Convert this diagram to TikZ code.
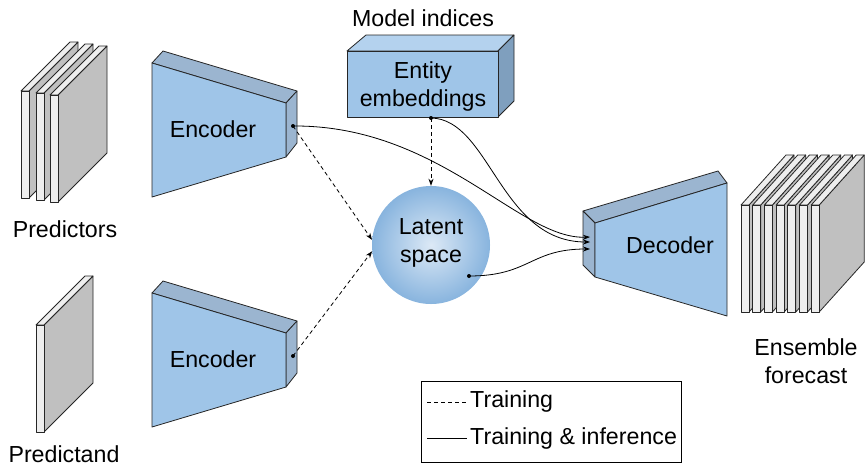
\documentclass[tikz,border=0pt]{standalone}
\usepackage{fontspec}
\setmainfont{Liberation Sans}
\usetikzlibrary{arrows.meta}

\definecolor{plfront}{HTML}{EEEEEE}
\definecolor{plside}{HTML}{C0C0C0}
\definecolor{netfront}{HTML}{9FC5E8}
\definecolor{netside}{HTML}{9BB5D0}
\definecolor{embtop}{HTML}{B4D2EE}
\definecolor{embside}{HTML}{7F9FBE}
\definecolor{latentin}{HTML}{DCE9F6}
\definecolor{latentout}{HTML}{88B4DE}

\tikzset{
  face/.style={draw=black!85, line width=0.8pt, line join=round},
  lbl/.style={font=\fontsize{23.2}{28}\selectfont, align=center, inner sep=0pt},
  flow/.style={-{Stealth[length=7pt,width=5pt]}, line width=0.8pt},
  train/.style={flow, dash pattern=on 4pt off 3pt},
}

\begin{document}
\begin{tikzpicture}[x=1pt,y=-1pt]
    \useasboundingbox (0,0) rectangle (866,466);

    % predictors and predictand
    \foreach \x/\y in {21/91, 36/93, 50/95, 36/325} {
        \draw[face, fill=plside] (\x+8,\y) -- (\x+57,\y-49) -- (\x+57,\y+58) -- (\x+8,\y+107) -- cycle;
        \draw[face, fill=plfront] (\x,\y) -- (\x+49,\y-49) -- (\x+57,\y-49) -- (\x+8,\y) -- cycle;
        \draw[face, fill=plfront] (\x,\y) rectangle (\x+8,\y+107);
    }
    \node[lbl] (pred) at (65,229) {Predictors};
    \node[lbl] (obs) at (64,454) {Predictand};

    % encoders
    \foreach \dy/\nm in {0/enca, 230/encb} {
        \draw[face, fill=netside] (152,63+\dy) -- (163,51+\dy) -- (297,91+\dy) -- (286,103+\dy) -- cycle;
        \draw[face, fill=netside] (286,103+\dy) -- (297,91+\dy) -- (297,143+\dy) -- (286,157+\dy) -- cycle;
        \draw[face, fill=netfront] (152,63+\dy) -- (286,103+\dy) -- (286,157+\dy) -- (152,197+\dy) -- cycle;
        \node[lbl] (\nm) at (213,129+\dy) {Encoder};
        \coordinate (\nm-out) at (293,126+\dy);
    }

    % entity embeddings
    \draw[face, fill=embtop] (347,51) -- (366,35) -- (514,35) -- (498,51) -- cycle;
    \draw[face, fill=embside] (498,51) -- (514,35) -- (514,101) -- (498,117) -- cycle;
    \draw[face, fill=netfront] (347,51) rectangle (498,117);
    \node[lbl] (emb) at (423,86) {Entity\\embeddings};
    \node[lbl] (idx) at (423,18) {Model indices};
    \coordinate (emb-out) at (431,118);

    % latent space
    \node[circle, minimum size=118pt, inner sep=0pt, shading=radial,
          inner color=latentin, outer color=latentout] (latent) at (431,245) {};
    \node[lbl] (latent-txt) at (431,243) {Latent\\space};
    \coordinate (latent-out) at (469,276);

    % decoder
    \draw[face, fill=netside] (583,211) -- (718,171) -- (727,183) -- (595,223) -- cycle;
    \draw[face, fill=netside] (583,211) -- (595,223) -- (595,277) -- (583,265) -- cycle;
    \draw[face, fill=netfront] (595,223) -- (727,183) -- (727,316) -- (595,277) -- cycle;
    \node[lbl] (dec) at (670,245) {Decoder};
    \coordinate (dec-in1) at (590,237);
    \coordinate (dec-in2) at (590,242);
    \coordinate (dec-in3) at (590,249);

    % ensemble forecast
    \foreach \i in {0,...,6} {
        \pgfmathsetmacro\x{741+11.7*\i}
        \draw[face, fill=plside] (\x+8,205) -- (\x+53,155) -- (\x+53,262) -- (\x+8,312) -- cycle;
        \draw[face, fill=plfront] (\x,205) -- (\x+45,155) -- (\x+53,155) -- (\x+8,205) -- cycle;
        \draw[face, fill=plfront] (\x,205) rectangle (\x+8,312);
    }
    \node[lbl] (ens) at (806,361) {Ensemble\\forecast};

    % connections
    \draw[train] (enca-out) -- (latent.175);
    \draw[train] (encb-out) -- (latent.186);
    \draw[train] (emb-out) -- (latent.north);
    \draw[flow] (enca-out) .. controls (440,125) and (520,240) .. (dec-in1);
    \draw[flow] (emb-out) .. controls (490,119) and (500,242) .. (dec-in2);
    \draw[flow] (latent-out) .. controls (530,276) and (530,249) .. (dec-in3);
    \foreach \p in {enca-out, encb-out, emb-out, latent-out}
        \fill (\p) circle (2pt);

    % legend
    \draw[line width=0.8pt] (421,381) rectangle (681,462);
    \node[lbl, anchor=west] (ltrain) at (470,401) {Training};
    \node[lbl, anchor=west] (lboth) at (470,438) {Training \& inference};
    \coordinate (ldash) at (427,402);
    \coordinate (lline) at (427,438);
    \draw[dash pattern=on 4pt off 3pt] (ldash) -- ([xshift=-3pt]ltrain.west |- ldash);
    \draw[line width=0.8pt] (lline) -- ([xshift=-3pt]lboth.west |- lline);
\end{tikzpicture}
\end{document}
